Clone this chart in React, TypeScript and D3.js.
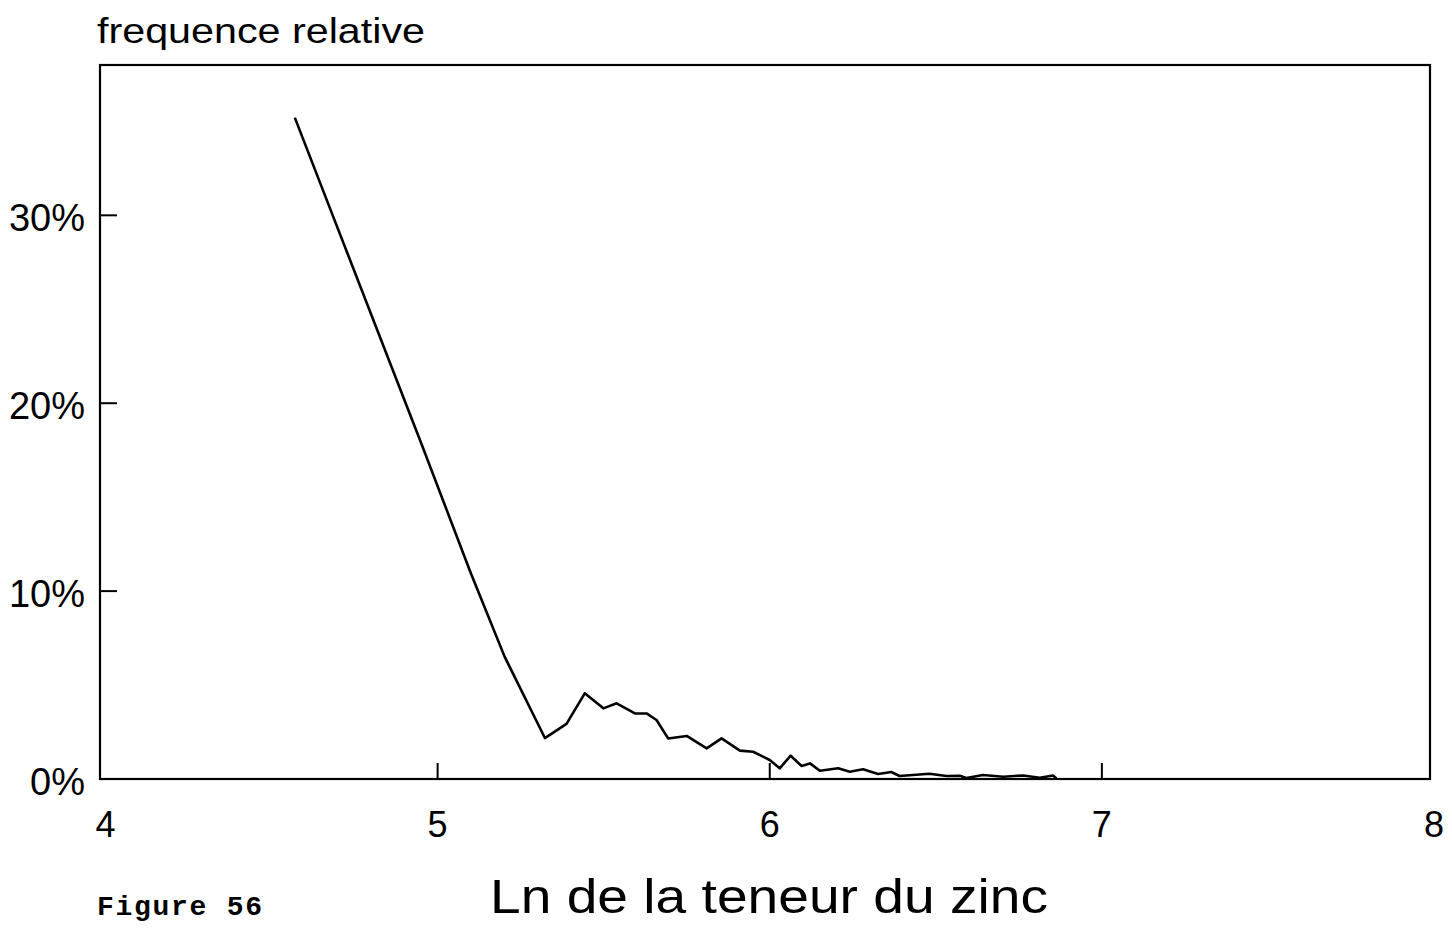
import React from "react";
import * as d3 from "d3";

const xValues = [4.57, 4.706, 4.95, 5.1, 5.202, 5.323, 5.388, 5.443, 5.499, 5.539, 5.594, 5.629, 5.659, 5.694, 5.75, 5.81, 5.855, 5.91, 5.95, 6.0, 6.03, 6.063, 6.096, 6.121, 6.151, 6.206, 6.241, 6.281, 6.326, 6.366, 6.391, 6.431, 6.481, 6.532, 6.572, 6.592, 6.642, 6.703, 6.763, 6.813, 6.853, 6.863];
const yValues = [35.2, 29.0, 17.9, 10.95, 6.5, 2.18, 2.93, 4.56, 3.76, 4.03, 3.49, 3.49, 3.14, 2.16, 2.29, 1.63, 2.16, 1.51, 1.45, 1.01, 0.57, 1.24, 0.69, 0.83, 0.44, 0.57, 0.39, 0.52, 0.27, 0.37, 0.16, 0.21, 0.28, 0.16, 0.17, 0.05, 0.21, 0.12, 0.19, 0.07, 0.19, 0.03];
const xTicks = [4, 5, 6, 7, 8];
const yTicks = [0, 10, 20, 30];
const yTickLabels = ["0%", "10%", "20%", "30%"];

const W = 1452;
const H = 931;
const frame = { left: 100, right: 1430, top: 65, bottom: 779 };

export default function App() {
  const x = d3.scaleLinear().domain([4, 8]).range([105.5, 1434]);
  const y = d3.scaleLinear().domain([0, 38]).range([779, 65]);
  const pts = xValues.map((v, i) => [v, yValues[i]] as [number, number]);
  const line = d3
    .line<[number, number]>()
    .x((d) => x(d[0]))
    .y((d) => y(d[1]))
    .curve(d3.curveLinear);
  const font = "'Liberation Sans', Arial, sans-serif";
  return (
    <svg
      width={W}
      height={H}
      style={{ position: "fixed", left: 0, top: 0, background: "#fff" }}
    >
      <rect x={0} y={0} width={W} height={H} fill="#fff" />
      <text
        x={97}
        y={43}
        fontFamily={font}
        fontSize={35}
        textLength={328}
        lengthAdjust="spacingAndGlyphs"
        fill="#000"
      >
        frequence relative
      </text>
      <rect
        x={frame.left}
        y={frame.top}
        width={frame.right - frame.left}
        height={frame.bottom - frame.top}
        fill="none"
        stroke="#000"
        strokeWidth={2.2}
      />
      {yTicks.map((t, i) => (
        <g key={"y" + t}>
          {t > 0 && (
            <line
              x1={frame.left}
              x2={frame.left + 17}
              y1={y(t)}
              y2={y(t)}
              stroke="#000"
              strokeWidth={2}
            />
          )}
          <text
            x={85}
            y={y(t) + 16}
            textAnchor="end"
            fontFamily={font}
            fontSize={38}
            fill="#000"
          >
            {yTickLabels[i]}
          </text>
        </g>
      ))}
      {xTicks.map((t) => (
        <g key={"x" + t}>
          {t > 4 && t < 8 && (
            <line
              x1={x(t)}
              x2={x(t)}
              y1={frame.bottom}
              y2={frame.bottom - 16}
              stroke="#000"
              strokeWidth={2}
            />
          )}
          <text
            x={x(t)}
            y={837}
            textAnchor="middle"
            fontFamily={font}
            fontSize={36}
            fill="#000"
          >
            {t}
          </text>
        </g>
      ))}
      <path d={line(pts) || ""} fill="none" stroke="#000" strokeWidth={2.6} strokeLinejoin="round" />
      <text
        x={490}
        y={913}
        fontFamily={font}
        fontSize={49}
        textLength={558}
        lengthAdjust="spacingAndGlyphs"
        fill="#000"
      >
        Ln de la teneur du zinc
      </text>
      <text
        x={97}
        y={915}
        fontFamily="'Liberation Mono', 'DejaVu Sans Mono', monospace"
        fontWeight="bold"
        fontSize={28}
        textLength={165}
        lengthAdjust="spacing"
        fill="#000"
      >
        Figure 56
      </text>
    </svg>
  );
}
